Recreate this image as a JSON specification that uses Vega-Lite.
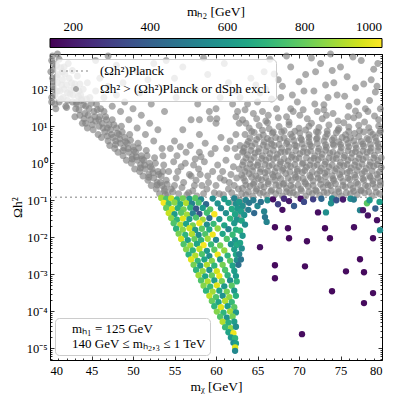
{
  "$schema": "https://vega.github.io/schema/vega-lite/v6.json",
  "width": 332,
  "height": 306,
  "autosize": "none",
  "padding": {"left": 50, "top": 54, "right": 17, "bottom": 39},
  "background": "white",
  "config": {
    "font": "Liberation Serif",
    "view": {"stroke": "black", "strokeWidth": 1},
    "axis": {"grid": false, "domain": false, "labelFont": "Liberation Serif", "titleFont": "Liberation Serif", "labelFontSize": 12.5, "titleFontSize": 13.5, "titleFontWeight": "normal", "labelColor": "black", "titleColor": "black", "tickColor": "black", "tickWidth": 0.8},
    "legend": {"labelFont": "Liberation Serif", "titleFont": "Liberation Serif", "labelColor": "black", "titleColor": "black", "titleFontWeight": "normal", "labelLimit": 400}
  },
  "datasets": {
    "planck": [{"omega": 0.12}],
    "gray": [
      {"x":40.2,"y":600},{"x":40.5,"y":350},{"x":40.3,"y":200},{"x":40.8,"y":450},{"x":41.0,"y":250},{"x":40.4,"y":120},{"x":40.9,"y":150},{"x":41.3,"y":380},{"x":41.5,"y":180},{"x":41.2,"y":90},{"x":41.8,"y":260},{"x":42.0,"y":130},{"x":40.6,"y":70},{"x":41.6,"y":60},{"x":42.3,"y":200},{"x":42.5,"y":95},{"x":40.2,"y":45},{"x":42.1,"y":50},{"x":43.0,"y":140},{"x":42.8,"y":70},{"x":43.2,"y":40},{"x":40.7,"y":30},{"x":41.9,"y":35},{"x":43.5,"y":90},{"x":43.8,"y":55},{"x":40.3,"y":800},{"x":41.1,"y":650},{"x":42.2,"y":500},{"x":42.7,"y":320},{"x":43.3,"y":230},{"x":40.1,"y":300},{"x":40.5,"y":100},{"x":41.4,"y":130},{"x":42.4,"y":75},
      {"x":40.4,"y":160},{"x":40.9,"y":90},{"x":41.3,"y":55},{"x":41.7,"y":100},{"x":42.1,"y":80},{"x":42.6,"y":150},{"x":40.8,"y":220},{"x":41.5,"y":300},{"x":42.9,"y":110},{"x":43.4,"y":65},{"x":40.2,"y":60},{"x":40.6,"y":40},{"x":41.1,"y":45},{"x":42.0,"y":32},{"x":42.7,"y":45},{"x":40.4,"y":500},{"x":41.7,"y":400},{"x":40.9,"y":900},{"x":43.6,"y":140},{"x":44.0,"y":100},
      {"x":43.0,"y":18},{"x":43.2,"y":45},{"x":43.5,"y":28},{"x":43.7,"y":70},{"x":43.9,"y":12},{"x":44.0,"y":38},
      {"x":44.2,"y":22},{"x":44.4,"y":55},{"x":44.5,"y":9},{"x":44.7,"y":30},{"x":44.9,"y":15},{"x":45.0,"y":42},{"x":44.3,"y":12},
      {"x":45.2,"y":8},{"x":45.3,"y":25},{"x":45.5,"y":14},{"x":45.6,"y":40},{"x":45.8,"y":6},{"x":46.0,"y":18},{"x":45.9,"y":10},
      {"x":46.2,"y":5},{"x":46.3,"y":12},{"x":46.5,"y":25},{"x":46.6,"y":7},{"x":46.8,"y":15},{"x":47.0,"y":4},{"x":46.9,"y":9},
      {"x":47.2,"y":3},{"x":47.3,"y":8},{"x":47.5,"y":15},{"x":47.6,"y":5},{"x":47.8,"y":2.5},{"x":48.0,"y":9},{"x":47.9,"y":4},
      {"x":48.2,"y":2},{"x":48.3,"y":6},{"x":48.5,"y":3.5},{"x":48.6,"y":10},{"x":48.8,"y":1.6},{"x":49.0,"y":5},{"x":48.9,"y":2.6},
      {"x":49.2,"y":1.2},{"x":49.3,"y":3.5},{"x":49.5,"y":2},{"x":49.6,"y":6},{"x":49.8,"y":1},{"x":50.0,"y":2.8},{"x":49.9,"y":1.5},
      {"x":50.2,"y":0.7},{"x":50.3,"y":2},{"x":50.5,"y":1.2},{"x":50.6,"y":3.5},{"x":50.8,"y":0.6},{"x":51.0,"y":1.6},{"x":50.9,"y":0.9},
      {"x":51.2,"y":0.45},{"x":51.3,"y":1.2},{"x":51.5,"y":0.7},{"x":51.6,"y":2.2},{"x":51.8,"y":0.35},{"x":52.0,"y":1.0},{"x":51.9,"y":0.5},
      {"x":52.2,"y":0.25},{"x":52.3,"y":0.7},{"x":52.5,"y":0.4},{"x":52.6,"y":1.4},{"x":52.8,"y":0.2},{"x":53.0,"y":0.6},{"x":52.9,"y":0.3},
      {"x":53.2,"y":0.15},{"x":53.4,"y":0.45},{"x":53.5,"y":0.25},{"x":53.7,"y":0.9},{"x":53.9,"y":0.14},{"x":54.0,"y":0.35},
      {"x":43.1,"y":30},{"x":43.6,"y":20},{"x":43.8,"y":50},{"x":44.1,"y":16},{"x":44.3,"y":35},{"x":44.6,"y":20},{"x":44.8,"y":60},{"x":45.1,"y":11},{"x":45.4,"y":18},{"x":45.7,"y":28},{"x":45.9,"y":15},{"x":46.1,"y":30},{"x":46.4,"y":9},{"x":46.7,"y":18},{"x":46.9,"y":5.5},{"x":47.1,"y":11},{"x":47.4,"y":6},{"x":47.7,"y":11},{"x":47.9,"y":3.2},{"x":48.1,"y":6.5},{"x":48.4,"y":4.5},{"x":48.7,"y":7},{"x":48.8,"y":2.2},{"x":49.1,"y":3.8},{"x":49.4,"y":2.5},{"x":49.7,"y":4.2},{"x":49.9,"y":1.3},{"x":50.1,"y":2.2},{"x":50.4,"y":1.5},{"x":50.7,"y":2.6},{"x":50.9,"y":0.75},{"x":51.1,"y":1.3},{"x":51.4,"y":0.9},{"x":51.7,"y":1.6},{"x":51.9,"y":0.42},{"x":52.1,"y":0.8},{"x":52.4,"y":0.55},{"x":52.7,"y":1.0},{"x":52.9,"y":0.26},{"x":53.1,"y":0.5},{"x":53.3,"y":0.3},{"x":53.6,"y":0.6},{"x":53.8,"y":0.18},{"x":54.1,"y":0.27},
      {"x":44.5,"y":150},{"x":45.5,"y":90},{"x":46.5,"y":60},{"x":47.0,"y":120},{"x":47.5,"y":35},{"x":48.0,"y":70},{"x":48.5,"y":25},{"x":49.0,"y":45},{"x":49.5,"y":15},{"x":50.0,"y":30},{"x":50.5,"y":9},{"x":51.0,"y":20},{"x":51.5,"y":6},{"x":52.0,"y":12},{"x":52.5,"y":4},{"x":53.0,"y":8},{"x":53.5,"y":2.5},{"x":46.0,"y":200},{"x":48.8,"y":150},{"x":50.8,"y":80},{"x":52.2,"y":40},{"x":53.8,"y":25},{"x":55.2,"y":60},{"x":51.8,"y":180},
      {"x":54.3,"y":0.6},{"x":54.6,"y":0.2},{"x":54.9,"y":1.1},{"x":55.2,"y":0.4},{"x":55.5,"y":0.15},{"x":55.8,"y":0.8},{"x":56.1,"y":0.3},{"x":56.4,"y":2.0},{"x":56.8,"y":0.5},{"x":57.2,"y":0.18},{"x":57.5,"y":1.3},{"x":57.9,"y":0.7},{"x":58.3,"y":0.25},{"x":58.7,"y":3.5},{"x":59.0,"y":0.45},{"x":59.4,"y":1.8},{"x":59.8,"y":0.16},{"x":60.2,"y":0.9},{"x":60.6,"y":5},{"x":61.0,"y":0.35},{"x":61.3,"y":2.5},{"x":55.0,"y":4},{"x":56.0,"y":8},{"x":57.0,"y":15},{"x":58.0,"y":6},{"x":55.7,"y":2.8},{"x":54.5,"y":2.5},{"x":53.6,"y":1.6},{"x":60.0,"y":12},{"x":61.5,"y":0.2},{"x":59.2,"y":25},{"x":57.8,"y":40},{"x":54.2,"y":0.14},{"x":55.0,"y":0.25},{"x":56.5,"y":0.14},{"x":57.6,"y":0.35},{"x":58.9,"y":0.2},{"x":60.4,"y":0.15},{"x":61.8,"y":0.5},{"x":53.8,"y":0.2},{"x":59.3,"y":16},{"x":60.1,"y":16},{"x":58.0,"y":2.0},
      {"x":54.8,"y":0.17},{"x":55.4,"y":0.6},{"x":55.9,"y":0.22},{"x":56.3,"y":1.0},{"x":56.7,"y":0.16},{"x":57.0,"y":0.45},{"x":57.4,"y":0.25},{"x":57.7,"y":0.13},{"x":58.1,"y":0.5},{"x":58.5,"y":0.15},{"x":58.6,"y":1.1},{"x":59.1,"y":0.3},{"x":59.6,"y":0.6},{"x":60.0,"y":0.25},{"x":60.5,"y":0.4},{"x":60.9,"y":0.14},{"x":61.2,"y":1.2},{"x":61.6,"y":0.3},{"x":61.9,"y":0.16},{"x":55.3,"y":1.6},{"x":56.9,"y":3},{"x":58.2,"y":1.5},{"x":59.9,"y":2.5},{"x":61.7,"y":4},{"x":57.3,"y":0.9},{"x":60.8,"y":0.6},
      {"x":62.3,"y":0.05},{"x":62.5,"y":0.035},{"x":62.6,"y":0.08},{"x":62.4,"y":0.12},{"x":62.7,"y":0.2},{"x":62.5,"y":0.4},{"x":62.8,"y":0.7},{"x":62.6,"y":1.5},{"x":62.9,"y":3},{"x":62.4,"y":6},{"x":62.7,"y":0.06},{"x":62.9,"y":0.1},{"x":63.0,"y":0.045},{"x":63.1,"y":0.15},{"x":62.2,"y":0.25},{"x":62.1,"y":0.8},{"x":63.2,"y":2},{"x":62.8,"y":12},{"x":62.6,"y":25},{"x":62.3,"y":2.5},{"x":62.0,"y":0.09},{"x":63.3,"y":0.06},{"x":63.5,"y":0.09},{"x":62.8,"y":0.03},
      {"x":63.6,"y":0.14},{"x":64.4,"y":0.13},{"x":65.3,"y":0.155},{"x":66.1,"y":0.135},{"x":67.2,"y":0.15},{"x":68.0,"y":0.13},{"x":68.9,"y":0.16},{"x":69.7,"y":0.14},{"x":70.8,"y":0.13},{"x":71.6,"y":0.15},{"x":72.5,"y":0.135},{"x":73.4,"y":0.16},{"x":74.3,"y":0.14},{"x":75.1,"y":0.13},{"x":76.2,"y":0.15},{"x":77.0,"y":0.14},{"x":77.9,"y":0.16},{"x":78.8,"y":0.13},{"x":79.7,"y":0.15},
      {"x":63.9,"y":0.17},{"x":64.8,"y":0.18},{"x":65.7,"y":0.165},{"x":66.6,"y":0.175},{"x":67.6,"y":0.18},{"x":68.5,"y":0.17},{"x":69.3,"y":0.16},{"x":70.3,"y":0.18},{"x":71.2,"y":0.17},{"x":72.1,"y":0.175},{"x":73.0,"y":0.165},{"x":73.9,"y":0.18},{"x":74.8,"y":0.17},{"x":75.7,"y":0.16},{"x":76.6,"y":0.175},{"x":77.5,"y":0.18},{"x":78.4,"y":0.17},{"x":79.3,"y":0.165},
      {"x":63.2,"y":0.21},{"x":64.1,"y":0.24},{"x":64.9,"y":0.2},{"x":65.8,"y":0.23},{"x":66.7,"y":0.19},{"x":67.6,"y":0.25},{"x":68.5,"y":0.21},{"x":69.3,"y":0.22},{"x":70.2,"y":0.2},{"x":71.1,"y":0.24},{"x":72.0,"y":0.19},{"x":72.9,"y":0.22},{"x":73.8,"y":0.25},{"x":74.7,"y":0.2},{"x":75.6,"y":0.23},{"x":76.5,"y":0.21},{"x":77.4,"y":0.19},{"x":78.3,"y":0.24},{"x":79.2,"y":0.22},
      {"x":63.6,"y":0.26},{"x":64.5,"y":0.27},{"x":65.4,"y":0.25},{"x":66.3,"y":0.28},{"x":67.2,"y":0.26},{"x":68.1,"y":0.27},{"x":69.0,"y":0.25},{"x":69.9,"y":0.26},{"x":70.8,"y":0.28},{"x":71.7,"y":0.25},{"x":72.6,"y":0.27},{"x":73.5,"y":0.26},{"x":74.4,"y":0.28},{"x":75.3,"y":0.25},{"x":76.2,"y":0.26},{"x":77.1,"y":0.27},{"x":78.0,"y":0.25},{"x":78.9,"y":0.28},{"x":79.8,"y":0.26},
      {"x":63.5,"y":0.33},{"x":64.6,"y":0.3},{"x":65.5,"y":0.36},{"x":66.3,"y":0.32},{"x":67.1,"y":0.35},{"x":68.2,"y":0.29},{"x":69.1,"y":0.34},{"x":69.9,"y":0.38},{"x":70.7,"y":0.31},{"x":71.7,"y":0.33},{"x":72.6,"y":0.36},{"x":73.3,"y":0.3},{"x":74.2,"y":0.34},{"x":75.3,"y":0.32},{"x":76.1,"y":0.37},{"x":76.9,"y":0.3},{"x":77.8,"y":0.35},{"x":78.9,"y":0.33},{"x":79.8,"y":0.31},
      {"x":63.3,"y":0.4},{"x":64.3,"y":0.42},{"x":65.1,"y":0.39},{"x":66.0,"y":0.41},{"x":66.9,"y":0.43},{"x":67.8,"y":0.38},{"x":68.7,"y":0.4},{"x":69.6,"y":0.42},{"x":70.5,"y":0.39},{"x":71.4,"y":0.41},{"x":72.3,"y":0.4},{"x":73.2,"y":0.43},{"x":74.1,"y":0.38},{"x":75.0,"y":0.41},{"x":75.9,"y":0.4},{"x":76.8,"y":0.42},{"x":77.7,"y":0.39},{"x":78.6,"y":0.41},{"x":79.5,"y":0.4},
      {"x":63.1,"y":0.48},{"x":64.0,"y":0.52},{"x":64.8,"y":0.45},{"x":65.9,"y":0.55},{"x":66.8,"y":0.5},{"x":67.5,"y":0.46},{"x":68.4,"y":0.53},{"x":69.5,"y":0.49},{"x":70.4,"y":0.56},{"x":71.3,"y":0.47},{"x":72.2,"y":0.51},{"x":73.1,"y":0.54},{"x":74.0,"y":0.46},{"x":74.9,"y":0.5},{"x":75.8,"y":0.55},{"x":76.7,"y":0.48},{"x":77.6,"y":0.52},{"x":78.5,"y":0.45},{"x":79.4,"y":0.5},
      {"x":63.5,"y":0.6},{"x":64.4,"y":0.63},{"x":65.3,"y":0.58},{"x":66.2,"y":0.62},{"x":67.1,"y":0.6},{"x":68.0,"y":0.65},{"x":68.9,"y":0.59},{"x":69.8,"y":0.61},{"x":70.7,"y":0.64},{"x":71.6,"y":0.58},{"x":72.5,"y":0.62},{"x":73.4,"y":0.6},{"x":74.3,"y":0.63},{"x":75.2,"y":0.59},{"x":76.1,"y":0.61},{"x":77.0,"y":0.64},{"x":77.9,"y":0.6},{"x":78.8,"y":0.62},{"x":79.7,"y":0.58},
      {"x":63.7,"y":0.74},{"x":64.5,"y":0.8},{"x":65.4,"y":0.7},{"x":66.4,"y":0.85},{"x":67.3,"y":0.76},{"x":68.1,"y":0.72},{"x":69.0,"y":0.82},{"x":69.8,"y":0.7},{"x":70.9,"y":0.78},{"x":71.8,"y":0.84},{"x":72.7,"y":0.73},{"x":73.6,"y":0.79},{"x":74.5,"y":0.71},{"x":75.4,"y":0.86},{"x":76.3,"y":0.75},{"x":77.2,"y":0.8},{"x":78.1,"y":0.72},{"x":79.0,"y":0.83},{"x":79.9,"y":0.77},
      {"x":63.2,"y":0.9},{"x":64.1,"y":0.95},{"x":65.0,"y":0.88},{"x":65.9,"y":0.93},{"x":66.8,"y":0.9},{"x":67.7,"y":0.96},{"x":68.6,"y":0.89},{"x":69.5,"y":0.92},{"x":70.4,"y":0.95},{"x":71.3,"y":0.88},{"x":72.2,"y":0.91},{"x":73.1,"y":0.94},{"x":74.0,"y":0.9},{"x":74.9,"y":0.87},{"x":75.8,"y":0.93},{"x":76.7,"y":0.9},{"x":77.6,"y":0.96},{"x":78.5,"y":0.89},{"x":79.4,"y":0.92},
      {"x":63.3,"y":1.1},{"x":64.2,"y":1.25},{"x":65.1,"y":1.05},{"x":66.0,"y":1.2},{"x":66.9,"y":1.3},{"x":67.8,"y":1.08},{"x":68.7,"y":1.15},{"x":69.6,"y":1.28},{"x":70.5,"y":1.02},{"x":71.4,"y":1.18},{"x":72.3,"y":1.25},{"x":73.2,"y":1.1},{"x":74.1,"y":1.3},{"x":75.0,"y":1.05},{"x":75.9,"y":1.2},{"x":76.8,"y":1.12},{"x":77.7,"y":1.27},{"x":78.6,"y":1.06},{"x":79.5,"y":1.18},
      {"x":63.6,"y":1.38},{"x":64.6,"y":1.45},{"x":65.5,"y":1.35},{"x":66.4,"y":1.42},{"x":67.3,"y":1.4},{"x":68.2,"y":1.33},{"x":69.1,"y":1.46},{"x":70.0,"y":1.38},{"x":70.9,"y":1.41},{"x":71.8,"y":1.36},{"x":72.7,"y":1.44},{"x":73.6,"y":1.39},{"x":74.5,"y":1.35},{"x":75.4,"y":1.43},{"x":76.3,"y":1.4},{"x":77.2,"y":1.37},{"x":78.1,"y":1.45},{"x":79.0,"y":1.38},{"x":79.9,"y":1.41},
      {"x":63.8,"y":1.7},{"x":64.7,"y":1.9},{"x":65.6,"y":1.6},{"x":66.5,"y":1.85},{"x":67.4,"y":1.75},{"x":68.3,"y":2.0},{"x":69.2,"y":1.65},{"x":70.1,"y":1.8},{"x":71.0,"y":1.95},{"x":71.9,"y":1.6},{"x":72.8,"y":1.75},{"x":73.7,"y":1.9},{"x":74.6,"y":1.7},{"x":75.5,"y":1.62},{"x":76.4,"y":1.88},{"x":77.3,"y":1.72},{"x":78.2,"y":1.98},{"x":79.1,"y":1.66},
      {"x":63.3,"y":2.1},{"x":64.2,"y":2.2},{"x":65.1,"y":2.05},{"x":66.0,"y":2.15},{"x":66.9,"y":2.25},{"x":67.8,"y":2.0},{"x":68.7,"y":2.1},{"x":69.6,"y":2.2},{"x":70.5,"y":2.05},{"x":71.4,"y":2.15},{"x":72.3,"y":2.1},{"x":73.2,"y":2.25},{"x":74.1,"y":2.0},{"x":75.0,"y":2.1},{"x":75.9,"y":2.2},{"x":76.8,"y":2.05},{"x":77.7,"y":2.15},{"x":78.6,"y":2.1},{"x":79.5,"y":2.2},
      {"x":63.4,"y":2.6},{"x":64.3,"y":2.9},{"x":65.2,"y":2.5},{"x":66.2,"y":2.8},{"x":67.0,"y":3.0},{"x":67.9,"y":2.55},{"x":68.8,"y":2.75},{"x":69.7,"y":2.95},{"x":70.6,"y":2.6},{"x":71.5,"y":2.85},{"x":72.4,"y":2.5},{"x":73.3,"y":2.7},{"x":74.2,"y":3.0},{"x":75.1,"y":2.65},{"x":76.0,"y":2.8},{"x":76.9,"y":2.55},{"x":77.8,"y":2.9},{"x":78.7,"y":2.6},{"x":79.6,"y":2.75},
      {"x":63.7,"y":3.2},{"x":64.7,"y":3.4},{"x":65.7,"y":3.1},{"x":66.7,"y":3.3},{"x":67.6,"y":3.2},{"x":68.5,"y":3.45},{"x":69.5,"y":3.1},{"x":70.4,"y":3.3},{"x":71.3,"y":3.2},{"x":72.2,"y":3.4},{"x":73.2,"y":3.15},{"x":74.1,"y":3.3},{"x":75.0,"y":3.2},{"x":75.9,"y":3.45},{"x":76.8,"y":3.1},{"x":77.7,"y":3.3},{"x":78.6,"y":3.2},{"x":79.5,"y":3.35},
      {"x":63.9,"y":3.9},{"x":64.9,"y":4.4},{"x":65.8,"y":3.8},{"x":66.6,"y":4.2},{"x":67.7,"y":4.5},{"x":68.6,"y":3.85},{"x":69.4,"y":4.1},{"x":70.3,"y":4.35},{"x":71.2,"y":3.9},{"x":72.1,"y":4.5},{"x":73.0,"y":4.0},{"x":74.0,"y":4.25},{"x":74.8,"y":3.8},{"x":75.7,"y":4.4},{"x":76.6,"y":4.05},{"x":77.5,"y":3.9},{"x":78.4,"y":4.3},{"x":79.3,"y":4.0},
      {"x":64.1,"y":4.8},{"x":65.2,"y":5.1},{"x":66.2,"y":4.7},{"x":67.2,"y":5.0},{"x":68.2,"y":4.9},{"x":69.2,"y":5.2},{"x":70.2,"y":4.75},{"x":71.2,"y":5.0},{"x":72.2,"y":4.85},{"x":73.2,"y":5.1},{"x":74.2,"y":4.8},{"x":75.2,"y":5.0},{"x":76.2,"y":4.9},{"x":77.2,"y":5.2},{"x":78.2,"y":4.7},{"x":79.2,"y":5.0},
      {"x":63.5,"y":6.0},{"x":64.6,"y":6.8},{"x":65.7,"y":5.8},{"x":66.8,"y":6.5},{"x":67.9,"y":7.0},{"x":69.0,"y":6.1},{"x":70.1,"y":6.6},{"x":71.2,"y":5.9},{"x":72.3,"y":6.9},{"x":73.4,"y":6.2},{"x":74.5,"y":6.7},{"x":75.6,"y":5.9},{"x":76.7,"y":6.4},{"x":77.8,"y":7.0},{"x":78.9,"y":6.0},{"x":79.7,"y":6.5},
      {"x":64.3,"y":7.2},{"x":65.6,"y":7.8},{"x":66.9,"y":7.0},{"x":68.2,"y":7.6},{"x":69.5,"y":7.3},{"x":70.8,"y":7.9},{"x":72.1,"y":7.1},{"x":73.4,"y":7.5},{"x":74.7,"y":7.8},{"x":76.0,"y":7.2},{"x":77.3,"y":7.6},{"x":78.6,"y":7.0},{"x":79.8,"y":7.4},
      {"x":64.0,"y":9},{"x":65.2,"y":10.5},{"x":66.4,"y":8.6},{"x":67.6,"y":9.8},{"x":68.8,"y":11},{"x":70.0,"y":8.8},{"x":71.2,"y":10},{"x":72.4,"y":9.3},{"x":73.6,"y":10.8},{"x":74.8,"y":8.7},{"x":76.0,"y":9.6},{"x":77.2,"y":10.6},{"x":78.4,"y":9.1},{"x":79.6,"y":10.2},
      {"x":63.6,"y":12},{"x":64.9,"y":16},{"x":66.2,"y":12.5},{"x":67.5,"y":17},{"x":68.8,"y":13},{"x":70.1,"y":20},{"x":71.5,"y":12},{"x":72.8,"y":16},{"x":74.1,"y":22},{"x":75.4,"y":12.5},{"x":76.6,"y":17},{"x":77.9,"y":13},{"x":79.1,"y":19},{"x":65.6,"y":25},{"x":69.0,"y":30},{"x":73.0,"y":28},{"x":76.8,"y":26},{"x":79.8,"y":30},
      {"x":63.2,"y":15},{"x":64.5,"y":22},{"x":66.0,"y":14},{"x":67.3,"y":30},{"x":68.5,"y":18},{"x":69.8,"y":45},{"x":71.0,"y":16},{"x":72.2,"y":25},{"x":73.5,"y":60},{"x":74.7,"y":14},{"x":76.0,"y":35},{"x":77.2,"y":20},{"x":78.5,"y":50},{"x":79.6,"y":15},
      {"x":63.8,"y":40},{"x":65.3,"y":80},{"x":66.7,"y":55},{"x":68.0,"y":120},{"x":69.2,"y":70},{"x":70.5,"y":28},{"x":71.8,"y":90},{"x":73.0,"y":38},{"x":74.2,"y":150},{"x":75.5,"y":65},{"x":76.8,"y":110},{"x":78.0,"y":30},{"x":79.2,"y":85},
      {"x":63.5,"y":28},{"x":65.0,"y":45},{"x":66.3,"y":20},{"x":67.8,"y":60},{"x":69.3,"y":25},{"x":70.6,"y":90},{"x":71.9,"y":40},{"x":73.3,"y":20},{"x":74.6,"y":70},{"x":75.9,"y":18},{"x":77.0,"y":45},{"x":78.3,"y":25},{"x":79.4,"y":120},{"x":64.8,"y":130},{"x":67.0,"y":260},{"x":70.0,"y":160},{"x":72.0,"y":300},{"x":75.0,"y":400},{"x":77.8,"y":140},{"x":79.5,"y":500},{"x":68.5,"y":800},{"x":73.8,"y":900},{"x":66.0,"y":100},{"x":62.9,"y":60},{"x":62.4,"y":18},
      {"x":64.2,"y":200},{"x":65.8,"y":300},{"x":67.5,"y":180},{"x":69.0,"y":400},{"x":70.8,"y":250},{"x":72.6,"y":500},{"x":74.0,"y":320},{"x":75.8,"y":220},{"x":77.5,"y":600},{"x":79.0,"y":350},{"x":66.5,"y":650},{"x":71.5,"y":700},{"x":76.5,"y":750},{"x":78.7,"y":180},{"x":73.2,"y":130},
      {"x":60.5,"y":60},{"x":61.5,"y":150},{"x":59.0,"y":250},{"x":57.5,"y":100},{"x":56.0,"y":400},{"x":58.5,"y":700},{"x":61.0,"y":500},{"x":62.5,"y":90},{"x":55.0,"y":200},{"x":54.0,"y":600},{"x":60.0,"y":30},{"x":62.0,"y":40},{"x":58.0,"y":15},
      {"x":45.5,"y":600},{"x":48.0,"y":450},{"x":50.5,"y":300},{"x":52.5,"y":500},{"x":47.0,"y":800}
    ],
    "col": [
      {"x":53.4,"y":0.115,"m":880},{"x":54.0,"y":0.108,"m":760},{"x":54.6,"y":0.113,"m":930},{"x":55.3,"y":0.105,"m":700},{"x":56.0,"y":0.112,"m":820},{"x":56.8,"y":0.109,"m":610},{"x":57.5,"y":0.114,"m":780},{"x":58.2,"y":0.106,"m":540},{"x":59.6,"y":0.111,"m":560},{"x":61.0,"y":0.108,"m":600},{"x":62.2,"y":0.113,"m":520},
      {"x":53.7,"y":0.085,"m":990},{"x":54.3,"y":0.08,"m":740},{"x":55.0,"y":0.087,"m":850},{"x":55.7,"y":0.079,"m":660},{"x":56.4,"y":0.084,"m":900},{"x":57.1,"y":0.081,"m":520},{"x":57.9,"y":0.086,"m":760},{"x":58.8,"y":0.078,"m":430},{"x":60.2,"y":0.082,"m":580},{"x":61.5,"y":0.085,"m":620},{"x":62.4,"y":0.08,"m":560},
      {"x":54.0,"y":0.062,"m":800},{"x":54.7,"y":0.058,"m":950},{"x":55.4,"y":0.061,"m":680},{"x":56.1,"y":0.057,"m":820},{"x":56.9,"y":0.063,"m":700},{"x":57.6,"y":0.059,"m":380},{"x":58.4,"y":0.062,"m":600},{"x":59.3,"y":0.057,"m":780},{"x":60.6,"y":0.061,"m":540},{"x":61.9,"y":0.058,"m":660},{"x":62.6,"y":0.06,"m":600},
      {"x":54.3,"y":0.045,"m":930},{"x":55.0,"y":0.042,"m":610},{"x":55.8,"y":0.046,"m":780},{"x":56.5,"y":0.041,"m":880},{"x":57.2,"y":0.044,"m":520},{"x":58.0,"y":0.043,"m":350},{"x":58.9,"y":0.046,"m":740},{"x":59.8,"y":0.042,"m":990},{"x":61.2,"y":0.045,"m":560},{"x":62.3,"y":0.042,"m":640},
      {"x":54.6,"y":0.033,"m":850},{"x":55.3,"y":0.03,"m":700},{"x":56.0,"y":0.032,"m":960},{"x":56.8,"y":0.031,"m":620},{"x":57.6,"y":0.034,"m":760},{"x":58.4,"y":0.03,"m":880},{"x":59.2,"y":0.033,"m":450},{"x":60.4,"y":0.031,"m":600},{"x":61.7,"y":0.032,"m":700},{"x":62.5,"y":0.03,"m":580},
      {"x":54.9,"y":0.024,"m":760},{"x":55.7,"y":0.022,"m":900},{"x":56.4,"y":0.023,"m":640},{"x":57.2,"y":0.021,"m":820},{"x":58.0,"y":0.024,"m":980},{"x":58.9,"y":0.022,"m":560},{"x":59.7,"y":0.023,"m":720},{"x":61.0,"y":0.021,"m":640},{"x":62.2,"y":0.024,"m":600},
      {"x":55.2,"y":0.017,"m":690},{"x":56.0,"y":0.016,"m":850},{"x":56.8,"y":0.0175,"m":940},{"x":57.5,"y":0.0158,"m":600},{"x":58.3,"y":0.017,"m":780},{"x":59.2,"y":0.0162,"m":660},{"x":60.2,"y":0.0172,"m":860},{"x":61.5,"y":0.0165,"m":520},{"x":62.4,"y":0.016,"m":680},
      {"x":55.5,"y":0.0125,"m":820},{"x":56.3,"y":0.0116,"m":700},{"x":57.1,"y":0.0123,"m":900},{"x":57.9,"y":0.0115,"m":560},{"x":58.7,"y":0.0122,"m":760},{"x":59.6,"y":0.0118,"m":980},{"x":60.8,"y":0.0124,"m":640},{"x":62.0,"y":0.0117,"m":720},
      {"x":55.8,"y":0.009,"m":940},{"x":56.6,"y":0.0084,"m":620},{"x":57.4,"y":0.0089,"m":800},{"x":58.2,"y":0.0083,"m":700},{"x":59.0,"y":0.0091,"m":880},{"x":60.0,"y":0.0085,"m":540},{"x":61.3,"y":0.009,"m":760},{"x":62.3,"y":0.0084,"m":600},
      {"x":56.1,"y":0.0065,"m":760},{"x":56.9,"y":0.006,"m":880},{"x":57.7,"y":0.0066,"m":650},{"x":58.5,"y":0.0061,"m":990},{"x":59.4,"y":0.0064,"m":720},{"x":60.5,"y":0.006,"m":820},{"x":61.8,"y":0.0065,"m":580},{"x":62.5,"y":0.0062,"m":660},
      {"x":56.4,"y":0.0047,"m":840},{"x":57.2,"y":0.0044,"m":700},{"x":58.0,"y":0.0048,"m":920},{"x":58.9,"y":0.0043,"m":600},{"x":59.8,"y":0.0046,"m":780},{"x":61.0,"y":0.0044,"m":860},{"x":62.2,"y":0.0047,"m":620},
      {"x":56.7,"y":0.0034,"m":680},{"x":57.5,"y":0.0032,"m":900},{"x":58.3,"y":0.0035,"m":760},{"x":59.2,"y":0.0031,"m":560},{"x":60.2,"y":0.0034,"m":980},{"x":61.4,"y":0.0032,"m":700},{"x":62.4,"y":0.0034,"m":640},
      {"x":57.0,"y":0.0025,"m":960},{"x":57.8,"y":0.0023,"m":720},{"x":58.6,"y":0.0025,"m":640},{"x":59.5,"y":0.0023,"m":840},{"x":60.5,"y":0.0025,"m":600},{"x":61.7,"y":0.0023,"m":780},{"x":62.5,"y":0.0024,"m":560},
      {"x":57.3,"y":0.0018,"m":820},{"x":58.1,"y":0.0017,"m":600},{"x":58.9,"y":0.0018,"m":900},{"x":59.8,"y":0.0017,"m":700},{"x":60.8,"y":0.0018,"m":820},{"x":62.0,"y":0.0017,"m":640},
      {"x":57.6,"y":0.0013,"m":700},{"x":58.4,"y":0.00122,"m":860},{"x":59.2,"y":0.0013,"m":580},{"x":60.1,"y":0.00121,"m":940},{"x":61.1,"y":0.0013,"m":760},{"x":62.2,"y":0.00123,"m":620},
      {"x":57.9,"y":0.00094,"m":880},{"x":58.7,"y":0.00088,"m":640},{"x":59.5,"y":0.00093,"m":800},{"x":60.4,"y":0.00089,"m":980},{"x":61.4,"y":0.00094,"m":700},{"x":62.4,"y":0.00089,"m":600},
      {"x":58.2,"y":0.00068,"m":760},{"x":59.0,"y":0.00064,"m":900},{"x":59.8,"y":0.00068,"m":620},{"x":60.7,"y":0.00065,"m":820},{"x":61.7,"y":0.00068,"m":560},{"x":62.5,"y":0.00064,"m":700},
      {"x":58.5,"y":0.00049,"m":840},{"x":59.3,"y":0.00046,"m":720},{"x":60.1,"y":0.0005,"m":960},{"x":61.0,"y":0.00047,"m":600},{"x":61.9,"y":0.00049,"m":780},
      {"x":58.8,"y":0.00036,"m":700},{"x":59.6,"y":0.00034,"m":880},{"x":60.4,"y":0.00036,"m":640},{"x":61.3,"y":0.00034,"m":820},{"x":62.2,"y":0.00036,"m":600},
      {"x":59.2,"y":0.00026,"m":920},{"x":60.0,"y":0.00024,"m":760},{"x":60.8,"y":0.00026,"m":580},{"x":61.6,"y":0.00024,"m":860},{"x":62.4,"y":0.00026,"m":680},
      {"x":59.5,"y":0.00019,"m":800},{"x":60.3,"y":0.000176,"m":640},{"x":61.1,"y":0.00019,"m":900},{"x":61.9,"y":0.000177,"m":720},
      {"x":59.8,"y":0.000136,"m":700},{"x":60.6,"y":0.000128,"m":960},{"x":61.4,"y":0.000137,"m":620},{"x":62.2,"y":0.000129,"m":780},
      {"x":60.1,"y":0.000098,"m":840},{"x":60.9,"y":0.000092,"m":700},{"x":61.7,"y":0.000099,"m":880},{"x":62.4,"y":0.000093,"m":600},
      {"x":60.5,"y":0.000071,"m":760},{"x":61.3,"y":0.000067,"m":580},{"x":62.0,"y":0.000072,"m":820},
      {"x":60.8,"y":0.000052,"m":900},{"x":61.5,"y":0.000049,"m":680},{"x":62.2,"y":0.000052,"m":620},
      {"x":61.1,"y":0.000037,"m":720},{"x":61.8,"y":0.000035,"m":860},{"x":62.4,"y":0.000038,"m":560},
      {"x":61.5,"y":0.000027,"m":640},{"x":62.1,"y":0.0000255,"m":980},
      {"x":61.8,"y":0.0000195,"m":600},{"x":62.3,"y":0.0000187,"m":700},
      {"x":62.1,"y":0.000014,"m":560},{"x":62.4,"y":0.0000135,"m":620},
      {"x":62.3,"y":0.0000105,"m":960},{"x":62.3,"y":0.0000085,"m":540},
      {"x":62.8,"y":0.09,"m":600},{"x":63.2,"y":0.07,"m":560},{"x":63.6,"y":0.1,"m":520},{"x":64.0,"y":0.085,"m":480},{"x":64.5,"y":0.1,"m":500},{"x":65.0,"y":0.07,"m":540},{"x":65.4,"y":0.09,"m":460},{"x":63.0,"y":0.05,"m":620},{"x":63.4,"y":0.04,"m":580},{"x":63.9,"y":0.055,"m":500},{"x":64.6,"y":0.045,"m":430},{"x":63.1,"y":0.028,"m":650},{"x":63.5,"y":0.022,"m":560},{"x":62.9,"y":0.015,"m":700},{"x":63.2,"y":0.011,"m":600},{"x":62.9,"y":0.007,"m":640},{"x":63.1,"y":0.005,"m":560},{"x":62.8,"y":0.0035,"m":520},{"x":63.0,"y":0.0025,"m":480},{"x":62.7,"y":0.0018,"m":460},{"x":65.8,"y":0.05,"m":520},{"x":66.2,"y":0.1,"m":560},{"x":66.1,"y":0.026,"m":520},{"x":65.9,"y":0.035,"m":480},
      {"x":66.87,"y":0.106,"m":170},{"x":67.47,"y":0.078,"m":300},{"x":68.2,"y":0.11,"m":250},{"x":68.8,"y":0.095,"m":200},{"x":69.4,"y":0.07,"m":380},{"x":70.2,"y":0.11,"m":180},{"x":70.6,"y":0.09,"m":330},{"x":71.7,"y":0.106,"m":300},{"x":72.29,"y":0.047,"m":170},{"x":72.7,"y":0.11,"m":420},{"x":73.25,"y":0.047,"m":560},{"x":73.98,"y":0.112,"m":540},{"x":73.86,"y":0.083,"m":560},{"x":74.5,"y":0.1,"m":360},{"x":75.3,"y":0.105,"m":200},{"x":76.2,"y":0.11,"m":560},{"x":76.6,"y":0.105,"m":500},{"x":77.35,"y":0.054,"m":520},{"x":77.71,"y":0.054,"m":190},{"x":78.19,"y":0.083,"m":780},{"x":78.5,"y":0.1,"m":600},{"x":78.3,"y":0.039,"m":180},{"x":79.4,"y":0.029,"m":170},{"x":79.76,"y":0.0155,"m":560},{"x":79.7,"y":0.09,"m":620},{"x":79.2,"y":0.06,"m":400},{"x":68.0,"y":0.055,"m":170},
      {"x":67.1,"y":0.0186,"m":160},{"x":68.67,"y":0.0175,"m":165},{"x":73.13,"y":0.0175,"m":160},{"x":76.63,"y":0.0186,"m":170},{"x":68.8,"y":0.0094,"m":160},{"x":70.96,"y":0.0078,"m":165},{"x":73.73,"y":0.0094,"m":160},{"x":78.92,"y":0.0094,"m":165},{"x":65.3,"y":0.0054,"m":170},{"x":67.1,"y":0.00175,"m":160},{"x":70.72,"y":0.00164,"m":165},{"x":77.35,"y":0.00254,"m":160},{"x":75.66,"y":0.0012,"m":165},{"x":77.83,"y":0.00113,"m":160},{"x":67.1,"y":0.00078,"m":165},{"x":73.98,"y":0.000347,"m":160},{"x":78.92,"y":0.00031,"m":165},{"x":77.83,"y":0.000166,"m":160},{"x":70.36,"y":0.000024,"m":165}
    ]
  },
  "resolve": {"axis": {"x": "independent", "y": "independent"}},
  "layer": [
    {
      "data": {"name": "planck"},
      "mark": {"type": "rule", "color": "#aaaaaa", "strokeWidth": 1.5},
      "encoding": {
        "y": {"field": "omega", "type": "quantitative", "scale": {"type": "log", "domain": [0.0000048, 900], "nice": false},
              "axis": {"orient": "left", "title": null, "labels": false, "tickSize": -2, "values": [0.000005,0.000006,0.000007,0.000008,0.000009,0.00002,0.00003,0.00004,0.00005,0.00006,0.00007,0.00008,0.00009,0.0002,0.0003,0.0004,0.0005,0.0006,0.0007,0.0008,0.0009,0.002,0.003,0.004,0.005,0.006,0.007,0.008,0.009,0.02,0.03,0.04,0.05,0.06,0.07,0.08,0.09,0.2,0.3,0.4,0.5,0.6,0.7,0.8,0.9,2,3,4,5,6,7,8,9,20,30,40,50,60,70,80,90,200,300,400,500,600,700,800,900]}},
        "x": {"datum": 40, "type": "quantitative", "scale": {"domain": [40, 80], "nice": false},
              "axis": {"orient": "bottom", "title": null, "labels": false, "tickSize": -2, "values": [41,42,43,44,46,47,48,49,51,52,53,54,56,57,58,59,61,62,63,64,66,67,68,69,71,72,73,74,76,77,78,79]}},
        "x2": {"datum": 80},
        "strokeDash": {"datum": "mₕ₁ = 125 GeV", "type": "nominal",
              "scale": {"domain": ["mₕ₁ = 125 GeV", "140 GeV ≤ mₕ₂,₃ ≤ 1 TeV"], "range": [[2, 3], [2, 3]]},
              "legend": {"orient": "bottom-left", "offset": 5, "title": null, "symbolSize": 0, "symbolStrokeWidth": 0, "symbolOpacity": 0, "clipHeight": 14, "labelOffset": 0, "labelFontSize": 13, "rowPadding": 1, "padding": 4, "fillColor": "rgba(255,255,255,0.85)", "strokeColor": "#cccccc", "cornerRadius": 4}}
      }
    },
    {
      "data": {"name": "gray"},
      "mark": {"type": "point", "filled": true, "size": 1225, "color": "#808080", "opacity": 0.65},
      "encoding": {
        "x": {"field": "x", "type": "quantitative",
              "axis": {"orient": "bottom", "title": "mᵪ [GeV]", "values": [40,45,50,55,60,65,70,75,80], "tickSize": -4, "labelPadding": 8, "titlePadding": 3}},
        "y": {"field": "y", "type": "quantitative",
              "axis": {"orient": "left", "title": "Ωh²", "values": [0.00001,0.0001,0.001,0.01,0.1,1,10,100], "tickSize": -4, "labelPadding": 7, "titlePadding": 2,
                       "labelExpr": "['10⁻⁵','10⁻⁴','10⁻³','10⁻²','10⁻¹','10⁰','10¹','10²'][round(log(datum.value)/LN10)+5]"}},
        "shape": {"datum": "Ωh² > (Ωh²)Planck or dSph excl.", "type": "nominal",
              "scale": {"domain": ["(Ωh²)Planck", "Ωh² > (Ωh²)Planck or dSph excl."],
                        "range": ["M-1,-0.05h0.13v0.1h-0.13z M-0.667,-0.05h0.13v0.1h-0.13z M-0.333,-0.05h0.13v0.1h-0.13z M0,-0.05h0.13v0.1h-0.13z M0.333,-0.05h0.13v0.1h-0.13z M0.667,-0.05h0.13v0.1h-0.13z",
                                  "M-0.2,0A0.2,0.2 0 1,0 0.2,0A0.2,0.2 0 1,0 -0.2,0Z"]},
              "legend": {"orient": "top-left", "offset": 5, "title": null, "symbolSize": 900, "clipHeight": 14, "labelOffset": 8, "labelFontSize": 13, "rowPadding": 4, "padding": 5, "fillColor": "rgba(255,255,255,0.8)", "strokeColor": "#cccccc", "cornerRadius": 4}}
      }
    },
    {
      "data": {"name": "col"},
      "mark": {"type": "point", "filled": true, "size": 40, "opacity": 1},
      "encoding": {
        "x": {"field": "x", "type": "quantitative",
              "axis": {"orient": "top", "title": null, "labels": false, "values": [40,45,50,55,60,65,70,75,80], "tickSize": -4}},
        "y": {"field": "y", "type": "quantitative",
              "axis": {"orient": "right", "title": null, "labels": false, "values": [0.00001,0.0001,0.001,0.01,0.1,1,10,100], "tickSize": -4}},
        "color": {"field": "m", "type": "quantitative", "scale": {"domain": [140, 1000], "scheme": "viridis", "nice": false},
              "legend": {"orient": "none", "legendX": 0, "legendY": -49, "direction": "horizontal", "title": "mₕ₂ [GeV]", "titleAnchor": "middle", "titleFontSize": 13.5, "titlePadding": 20, "padding": 0,
                         "gradientLength": 332, "gradientThickness": 9, "gradientStrokeColor": "black", "gradientStrokeWidth": 1, "format": "d",
                         "values": [200, 400, 600, 800, 1000], "labelOffset": -27, "labelAlign": "center", "labelFontSize": 13}}
      }
    },
    {
      "data": {"name": "planck"},
      "mark": {"type": "rule", "opacity": 0},
      "encoding": {
        "y": {"field": "omega", "type": "quantitative",
              "axis": {"orient": "right", "title": null, "labels": false, "tickSize": -2, "values": [0.000005,0.000006,0.000007,0.000008,0.000009,0.00002,0.00003,0.00004,0.00005,0.00006,0.00007,0.00008,0.00009,0.0002,0.0003,0.0004,0.0005,0.0006,0.0007,0.0008,0.0009,0.002,0.003,0.004,0.005,0.006,0.007,0.008,0.009,0.02,0.03,0.04,0.05,0.06,0.07,0.08,0.09,0.2,0.3,0.4,0.5,0.6,0.7,0.8,0.9,2,3,4,5,6,7,8,9,20,30,40,50,60,70,80,90,200,300,400,500,600,700,800,900]}},
        "x": {"datum": 40, "type": "quantitative",
              "axis": {"orient": "top", "title": null, "labels": false, "tickSize": -2, "values": [41,42,43,44,46,47,48,49,51,52,53,54,56,57,58,59,61,62,63,64,66,67,68,69,71,72,73,74,76,77,78,79]}}
      }
    }
  ]
}
